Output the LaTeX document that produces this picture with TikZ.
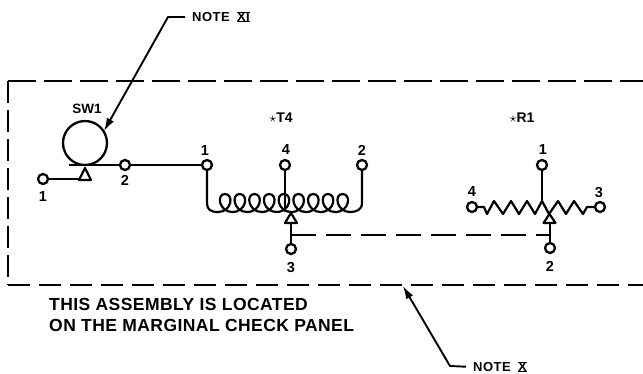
\documentclass[tikz,border=0pt]{standalone}
\usepackage{fontspec}
\setmainfont{Liberation Sans}
\usetikzlibrary{arrows.meta}
\newcommand{\barred}[1]{\setbox0=\hbox{#1}\hbox{\rlap{\rule[-1pt]{\wd0}{1.3pt}}\rlap{\rule[\dimexpr\ht0-0.3pt\relax]{\wd0}{1.3pt}}\box0}}
\tikzset{
  x=1pt,y=-1pt,
  wire/.style={line width=2.2pt,line join=round},
  term/.style={circle,draw,line width=2.3pt,fill=white,inner sep=0pt,minimum size=10pt},
  pin/.style={font=\fontsize{14.5}{14.5}\selectfont\bfseries,inner sep=0pt},
  title/.style={font=\fontsize{14}{14}\selectfont\bfseries,inner sep=0pt},
  note/.style={font=\fontsize{13}{13}\selectfont\bfseries\addfontfeature{LetterSpace=4},inner sep=0pt,anchor=west},
  assy/.style={font=\fontsize{17.5}{17.5}\selectfont\bfseries\addfontfeature{LetterSpace=2.5},inner sep=0pt,anchor=west},
  frame/.style={line width=2pt},
  tri/.style={line width=2.2pt,fill=white,line join=round},
  leader/.style={line width=1.9pt,shorten <=7pt,-{Latex[length=13pt,width=8pt]}}
}
\begin{document}
\begin{tikzpicture}
\useasboundingbox (0,0) rectangle (643,373);
% frame
\coordinate (ftr) at (643,81);
\coordinate (ftl) at (8,81);
\coordinate (fbl) at (8,285);
\coordinate (fbr) at (643,285);
\draw[frame,dash pattern=on 28pt off 8pt] (ftl) -- (ftr);
\draw[frame,dash pattern=on 22pt off 7pt] (ftl) -- (fbl);
\draw[frame,dash pattern=on 22pt off 9pt] (fbl) -- (fbr);
% SW1
\node[circle,draw,line width=2.3pt,inner sep=0pt,minimum size=44pt] (sw) at (85,143) {};
\node[pin,font=\fontsize{13.5}{13.5}\selectfont\bfseries] (swl) at (87,109) {SW1};
\coordinate (swbar) at (69,165);
\node[term] (s2) at (125,165) {};
\node[term] (t1) at (207,165) {};
\node[term] (s1) at (43,179) {};
\draw[wire] (swbar) -- (s2) -- (t1);
\coordinate (swtip) at (85,168);
\coordinate (swb) at (85,179);
\draw[wire] (s1) -- (swb);
\draw[tri] (swtip) -- (91,180) -- (79,180) -- cycle;
\node[pin] at (43,197) {1};
\node[pin] at (125,180) {2};
\node[pin] at (205,151) {1};
% T4
\node[title] at (281,118) {$\star$T4};
\node[term] (t4) at (285,165) {};
\node[term] (t2) at (362,165) {};
\node[term] (t3) at (291,249) {};
\node[pin] at (286,150) {4};
\node[pin] at (362,150) {2};
\node[pin] at (291,268) {3};
\draw[wire] (t1) -- (207,203) .. controls (207,209) and (210,212) .. (218,212)
  \foreach \c in {225,239.7,254.4,269.1,283.8,298.5,313.2,327.9,342.6} {
    .. controls (\c+7,212) and (\c+9,194) .. (\c,194)
    .. controls (\c-9,194) and (\c-6,212) .. (\c+7.3,212) }
  .. controls (356,212) and (362,210) .. (362,203) -- (t2);
\draw[wire] (t4) -- (285,212);
\coordinate (tj) at (291,235);
\coordinate (ttip) at (291,213);
\draw[wire] (t3) -- (291,223);
\draw[tri] (ttip) -- (297,223) -- (285,223) -- cycle;
% R1
\node[title] at (522,118) {$\star$R1};
\node[term] (r1) at (542,165) {};
\node[term] (r4) at (472,207) {};
\node[term] (r3) at (600,207) {};
\node[term] (r2) at (550,248) {};
\node[pin] at (543,150) {1};
\node[pin] at (472,192) {4};
\node[pin] at (599,193) {3};
\node[pin] at (550,266) {2};
\draw[wire] (r4) -- (484,207) -- (487,214) -- (494,201) -- (503,214) -- (511,201) -- (519,214) -- (527,201) -- (535,214) -- (542,201) -- (549,214) -- (558,201) -- (566,214) -- (574,201) -- (583,214) -- (587,207) -- (r3);
\draw[wire] (r1) -- (542,201);
\draw[wire] (r2) -- (550,223);
\draw[tri] (549.5,214) -- (555.5,223) -- (543.5,223) -- cycle;
\coordinate (rj) at (550,235);
\draw[frame,dash pattern=on 25pt off 10pt] (tj) -- (rj);
% assembly text
\node[assy] (a1) at (49,304) {THIS ASSEMBLY IS LOCATED};
\node[assy] (a2) at (49,325) {ON THE MARGINAL CHECK PANEL};
% notes
\node[note] (n1) at (192,17) {NOTE\hspace{3pt} \barred{XI}};
\node[note] (n2) at (473,367) {NOTE\hspace{3pt} \barred{X}};
\coordinate (n1tip) at (104,131);
\coordinate (n2tip) at (403,286);
\draw[leader] (n1.west) -- (168,17) -- (n1tip);
\draw[leader] (n2.west) -- (450,366) -- (n2tip);
\end{tikzpicture}
\end{document}
